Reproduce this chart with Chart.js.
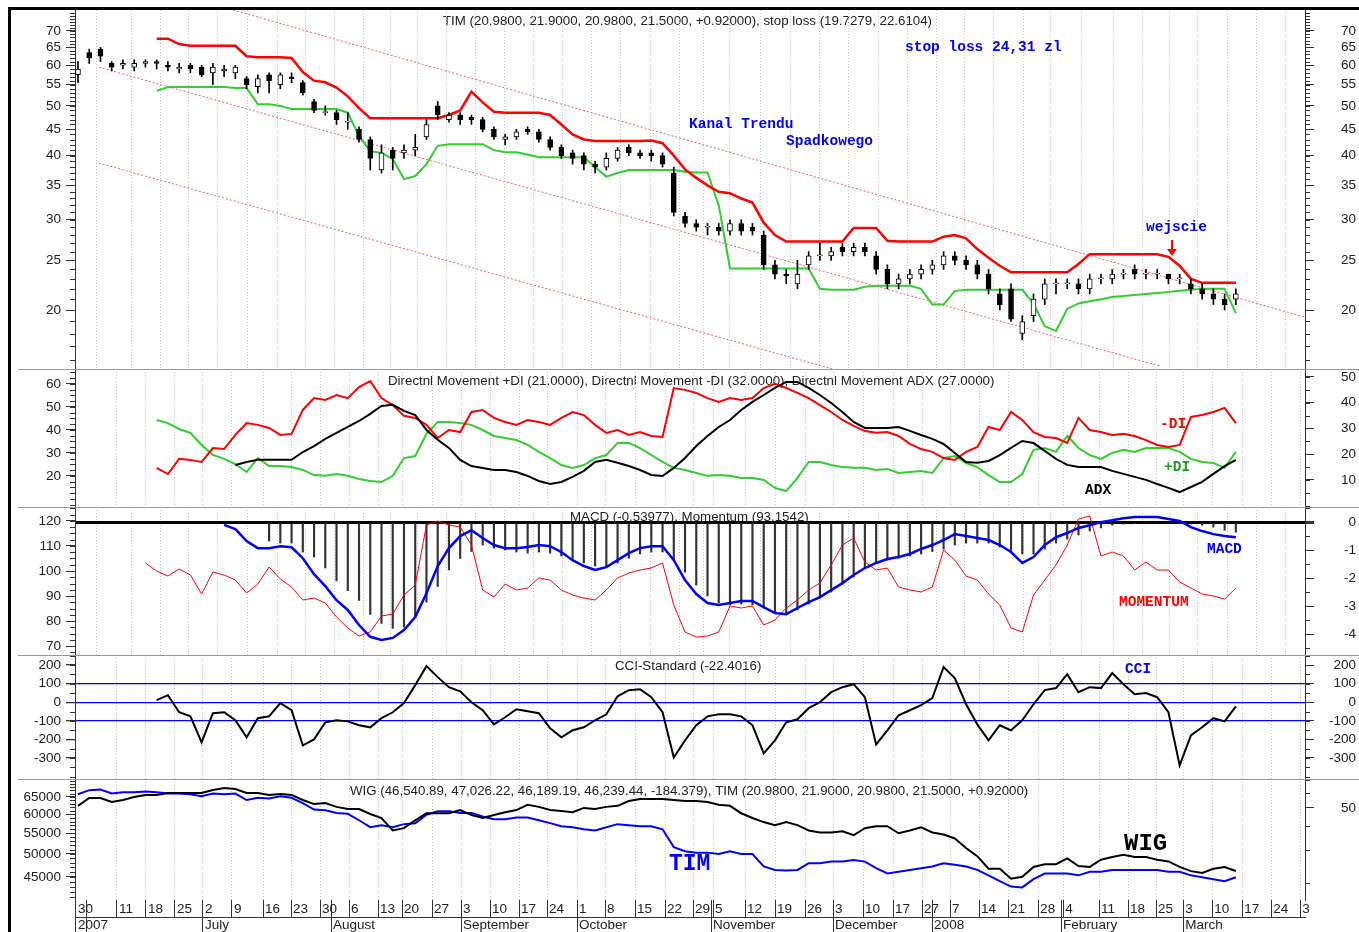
<!DOCTYPE html>
<html>
<head>
<meta charset="utf-8">
<title>TIM</title>
<script src="https://cdn.jsdelivr.net/npm/chart.js@4.4.1/dist/chart.umd.min.js"></script>
<style>
  html, body { margin: 0; padding: 0; background: #fff; }
  #page { position: relative; width: 1359px; height: 932px; overflow: hidden; }
  #page canvas { position: absolute; left: 0; }
  .rule { position: absolute; background: #000; }
  .sep { position: absolute; left: 18px; width: 1341px; height: 1px; background: #9a9a9a; }
</style>
</head>
<body>
<div id="page">
  <canvas id="price"></canvas>
  <canvas id="dmi"></canvas>
  <canvas id="macd"></canvas>
  <canvas id="cci"></canvas>
  <canvas id="wig"></canvas>
  <div class="sep" style="top:369px"></div>
  <div class="sep" style="top:507px"></div>
  <div class="sep" style="top:655px"></div>
  <div class="sep" style="top:779px"></div>
  <div class="rule" style="left:8px;top:7px;width:1351px;height:3px"></div>
  <div class="rule" style="left:8px;top:7px;width:3px;height:925px"></div>
</div>
<script>
// x is counted in trading sessions, one sample every second session
const X_MIN = -0.53, X_MAX = 218.3, STEP = 2;

// weekly labels on the time axis and month labels under them
const dayTicks = [-0.36, 6.94, 12.1, 17.26, 22.24, 27.4, 32.92, 37.9, 43.06, 48.22, 53.38, 57.65, 62.99,
  68.15, 73.31, 78.47, 83.45, 88.79, 93.77, 99.11, 104.45, 109.43, 112.99, 118.68, 124.02, 129.36,
  134.34, 139.68, 145.02, 150.18, 155.16, 160.32, 165.48, 170.82, 175.27, 181.67, 186.83, 191.81,
  196.62, 201.78, 207.12, 212.28, 217.44];
const dayLabels = ['30', '11', '18', '25', '2', '9', '16', '23', '30', '6', '13', '20', '27',
  '3', '10', '17', '24', '1', '8', '15', '22', '29', '5', '12', '19', '26',
  '3', '10', '17', '27', '7', '14', '21', '28', '4', '11', '18', '25',
  '3', '10', '17', '24', '3'];
const monthLines = [1.6, 45.02, 112.63, 151.96, 174.91];
const monthTicks = [-0.36, 1.6, 22.24, 45.02, 68.15, 88.79, 112.63, 134.34, 151.96, 174.91, 196.62];
const monthLabels = ['2007', '', 'July', 'August', 'September', 'October', 'November', 'December', '2008', 'February', 'March'];

// TIM candles
const timOpen = [57.5, 63.5, 64.5, 60.5, 60, 59.5, 60.5, 61, 60, 59,
  60, 59.5, 58, 58.5, 58, 56.5, 54.5, 57.5, 55, 57,
  55.5, 51, 48.5, 48.5, 46.5, 45, 43, 37.5, 41, 40.5,
  41, 43.5, 50, 47, 48, 47.5, 47, 45, 43, 43.5,
  45, 44.5, 43, 41.5, 40.5, 40, 38.5, 38, 39.5, 41.5,
  40.5, 40.5, 40, 37, 30.5, 29.5, 29, 29, 28.5, 29.5,
  29, 28, 24.5, 23.5, 22.5, 24.5, 25.5, 25.5, 26.5, 26,
  26.5, 25.5, 24, 22.5, 23, 23.5, 24, 24.5, 25.5, 25,
  24.5, 23.5, 21.5, 22, 18, 19.5, 21, 22.5, 22.5, 22.5,
  22, 23, 23, 23.5, 24, 23.5, 23.5, 23.5, 23, 22.5,
  22, 21.5, 21, 21];
const timHigh = [61, 64.5, 65, 61, 61.5, 61.5, 61.5, 61.5, 61, 60.5,
  60.5, 60, 60.5, 60, 60, 57, 57.5, 58, 58, 58,
  56, 51.5, 50, 49, 48.5, 45.5, 43.5, 42, 41.5, 42,
  44, 47, 51, 48.5, 48.5, 48, 47.5, 45.5, 44, 45,
  45.5, 45, 43.5, 42, 41, 40.5, 39, 40.5, 41.5, 42,
  41, 41, 40.5, 38, 31, 30, 29.5, 29.5, 30, 30,
  29.5, 28.5, 25, 24, 25, 26, 27, 26.5, 27, 27,
  27, 26, 24.5, 23.5, 24, 24.5, 25, 26, 26, 25.5,
  25, 24, 22, 22.5, 19.5, 21.5, 23, 23, 23, 23,
  23.5, 23.5, 24, 24, 24.5, 24, 24, 23.5, 23.5, 23,
  22.5, 22, 21.5, 22];
const timLow = [55.5, 60.5, 61, 58.5, 59, 58.5, 59.5, 59, 58.5, 58,
  58, 57, 55, 57, 56.5, 54, 53, 53, 54, 55.5,
  52.5, 48.5, 48, 46, 45, 42.5, 37.5, 37, 37.5, 39.5,
  40, 43, 47, 46.5, 46, 46, 44.5, 43, 42, 43,
  44, 42.5, 41, 39.5, 38.5, 37.5, 37, 37.5, 39, 40,
  39.5, 39, 38, 30.5, 29, 28.5, 28, 28, 28, 28,
  28, 24, 23, 22.5, 22, 24, 25, 25, 25.5, 25.5,
  25.5, 23.5, 22, 22, 22.5, 23, 23.5, 24, 24.5, 24,
  23, 21.5, 20, 19, 17.5, 19, 20.5, 21.5, 22, 21.5,
  21.5, 22.5, 22.5, 23, 23, 23, 23, 22.5, 22.5, 21.5,
  21, 20.5, 20, 20.5];
const timClose = [59, 62, 62.5, 59.5, 60.5, 60.5, 61, 60.5, 59.5, 59.5,
  59, 57.5, 59.5, 59, 59.5, 55, 56.5, 56, 57.5, 56.5,
  53, 49, 48.5, 47, 46.5, 43, 39.5, 40.5, 39.5, 41,
  41.5, 46, 48, 48, 47, 47, 45, 43.5, 43.5, 44.5,
  44.5, 43, 41.5, 40, 39.5, 38.5, 38, 39.5, 41, 40.5,
  40, 40, 38.5, 31, 29.5, 29, 29, 28.5, 29.5, 28.5,
  28.5, 24.5, 23.5, 23.3, 23.5, 25.5, 25.5, 26, 26, 26.5,
  26, 24, 22.5, 23, 23.5, 24, 24.5, 25.5, 25, 24.5,
  23.5, 22, 20.5, 19.2, 19, 21, 22.5, 22.5, 22.5, 22,
  23, 23, 23.5, 23.5, 23.5, 23.5, 23.5, 23, 23, 22,
  21.5, 21, 20.5, 21.5];

// stop loss bands, from sample 7
const stopUpper = [67.6, 67.6, 66, 65.5, 65.5, 65.5, 65.5, 65.5, 62.5, 62.2,
  62.2, 62.2, 62, 58.2, 56, 55.6, 54.3, 52.2, 49.5, 47.3,
  47.3, 47.3, 47.3, 47.3, 47.3, 47.3, 48, 49, 53.3, 50.8,
  48.7, 48.5, 48.5, 48.5, 48.5, 48, 46, 44, 43, 42.7,
  42.7, 42.7, 42.7, 42.7, 42.8, 42.3, 40, 37.6, 36.2, 35,
  34, 33.8, 33, 32.4, 29.6, 28, 27.2, 27.2, 27.2, 27.2,
  27.2, 27.2, 28.9, 28.9, 28.9, 27.3, 27.2, 27.2, 27.2, 27.2,
  27.8, 28, 27.6, 26.3, 25.3, 24.4, 23.7, 23.7, 23.7, 23.7,
  23.7, 23.7, 24.6, 25.7, 25.7, 25.7, 25.7, 25.7, 25.7, 25.7,
  25.4, 24.4, 23, 22.6, 22.6, 22.6, 22.61];
const stopLower = [53.5, 54.4, 54.4, 54.4, 54.4, 54.4, 54.4, 54.2, 54.2, 50.4,
  50.4, 50, 49.3, 49.3, 49.3, 49.3, 49.3, 48.5, 43.7, 40.8,
  40.5, 39.4, 36, 36.5, 38.5, 41.8, 42.1, 42.1, 42.1, 42.1,
  41, 40.6, 40.6, 40.2, 39.7, 39.7, 39.7, 39.7, 39.7, 38,
  36.4, 37, 37.5, 37.5, 37.5, 37.5, 37.5, 37.2, 37.1, 37.1,
  32, 24.1, 24.1, 24.1, 24.1, 24.1, 24.1, 24.1, 24.1, 22,
  21.9, 21.9, 21.9, 22.2, 22.3, 22.3, 22.3, 22.3, 22, 20.5,
  20.5, 21.8, 21.9, 21.9, 21.9, 21.9, 21.9, 21.9, 20.6, 18.6,
  18.2, 20.1, 20.6, 20.8, 21, 21.2, 21.3, 21.4, 21.5, 21.6,
  21.7, 21.8, 21.9, 22, 22, 22, 19.73];

// descending trend channel, [session, price] end points
const trendUpper = [[27.6, 76.9], [218.3, 19.37]];
const trendMiddle = [[3.7, 59.5], [192.5, 15.55]];
const trendLower = [[3.7, 38.7], [134.7, 15.3]];

// directional movement, +DI/-DI from sample 7, ADX from sample 14
const plusDI = [33.3, 32.1, 29.8, 28.3, 23.6, 19.7, 18.2, 16.2, 13.1, 18.5,
  15.4, 15.4, 15, 13.9, 11.9, 11.6, 12.3, 11.6, 10.4, 9.6,
  9.2, 11.6, 18.5, 19.3, 27.9, 32.5, 32.5, 32.1, 31.4, 29.4,
  27.1, 26.3, 25.5, 23.6, 20.9, 18.5, 15.8, 14.7, 15.8, 18.5,
  19.7, 24.4, 24.4, 22.4, 19.7, 17, 14.7, 13.9, 12.7, 11.6,
  11.9, 11.6, 10.8, 10.8, 10, 6.9, 5.7, 10.8, 17, 17,
  15.8, 15, 14.7, 14.7, 13.9, 14.3, 12.7, 13.1, 13.5, 12.7,
  18.5, 19.3, 16.6, 15, 11.9, 9.2, 9.2, 12.3, 21.7, 22.4,
  20.9, 27.1, 22.4, 19.7, 18.2, 20.5, 21.7, 20.9, 22.4, 22.4,
  22.4, 20.9, 18.2, 17, 16.6, 14.7, 20.9];
const minusDI = [14.7, 12.3, 18.2, 17.8, 17, 22.4, 22, 27.5, 32.1, 31.4,
  30.2, 27.5, 27.9, 37.2, 41.8, 41.1, 43, 41.8, 46.1, 48.4,
  41.8, 39.1, 34.9, 34.1, 31.4, 26.3, 29.4, 28.6, 36.4, 37.2,
  34.1, 32.5, 31.4, 33.3, 32.5, 31.4, 34.1, 36.4, 35.2, 31.4,
  28.3, 29.4, 27.5, 28.6, 27.1, 26.7, 45.7, 45, 43.8, 41.8,
  40.3, 41.8, 41.1, 41.8, 45.7, 47.3, 45.7, 43.8, 41.8, 39.1,
  36.4, 33.3, 31, 29, 28.3, 28.6, 27.1, 24, 22, 20.9,
  18.5, 17.8, 20.9, 22.8, 30.6, 29.4, 36.4, 33.3, 28.6, 26.7,
  26.3, 24.4, 34.1, 29.4, 28.6, 27.5, 27.9, 27.1, 25.5, 23.6,
  22.8, 23.6, 34.5, 35.2, 36.4, 38, 32.1];
const adx = [24.8, 26.1, 27, 27, 27, 27, 30.4, 33, 36.1, 38.7,
  41.3, 43.9, 47, 50.4, 50.9, 48.3, 46.5, 40, 35.7, 32.2,
  27, 24.3, 23.5, 22.6, 22.6, 21.7, 20, 17.8, 16.5, 17.4,
  19.6, 22.2, 26.1, 27, 25.7, 24.3, 22.6, 20.4, 20, 23.5,
  27.8, 33, 37.4, 41.3, 44.3, 48.7, 52.2, 55.2, 58.3, 60.9,
  60.9, 58.3, 55.2, 51.7, 47.8, 43.5, 40.9, 40.9, 40.9, 41.3,
  39.6, 37.8, 36.1, 33.9, 30, 26.1, 25.7, 26.5, 29.1, 32.2,
  35.2, 34.3, 30.9, 27.4, 24.8, 23.9, 23.9, 23.9, 22.2, 20.9,
  19.6, 18.3, 16.5, 14.8, 13, 15.2, 17.4, 20.9, 24.3, 27];

// MACD from sample 13, histogram from 17, momentum from 6
const macd = [-0.1, -0.25, -0.68, -0.93, -0.93, -0.86, -0.9, -1.29, -1.86, -2.29,
  -2.79, -3.14, -3.68, -4.1, -4.21, -4.14, -3.86, -3.39, -2.54, -1.57,
  -0.93, -0.5, -0.29, -0.57, -0.82, -0.93, -0.93, -0.89, -0.82, -0.86,
  -1.07, -1.36, -1.57, -1.71, -1.61, -1.36, -1.11, -0.93, -0.86, -0.86,
  -1.36, -2.07, -2.57, -2.89, -2.96, -2.89, -2.82, -2.82, -3.04, -3.25,
  -3.29, -3.07, -2.86, -2.68, -2.43, -2.18, -1.89, -1.64, -1.46, -1.32,
  -1.25, -1.14, -0.96, -0.82, -0.64, -0.43, -0.5, -0.57, -0.64, -0.82,
  -1.07, -1.46, -1.25, -0.82, -0.54, -0.39, -0.21, -0.11, 0, 0.07,
  0.14, 0.18, 0.18, 0.18, 0.11, 0.04, -0.18, -0.32, -0.43, -0.5,
  -0.54];
const macdHist = [-0.68, -0.75, -0.75, -1.07, -1.25, -1.64, -2.1, -2.45, -2.8, -3.3,
  -3.62, -3.8, -3.75, -3.4, -2.86, -2.3, -1.71, -1.3, -1.05, -0.82,
  -0.93, -1, -1.07, -1.11, -1.07, -1.11, -1.21, -1.36, -1.46, -1.57,
  -1.61, -1.46, -1.29, -1.14, -1.07, -1.07, -1.36, -1.79, -2.25, -2.64,
  -2.89, -2.96, -2.93, -2.96, -3.07, -3.21, -3.25, -3.14, -2.93, -2.71,
  -2.5, -2.21, -1.96, -1.64, -1.43, -1.36, -1.29, -1.21, -1.14, -1.05,
  -0.96, -0.82, -0.75, -0.75, -0.75, -0.89, -1.05, -1.14, -1.14, -0.96,
  -0.75, -0.61, -0.46, -0.32, -0.21, -0.11, -0.07, -0.04, 0, 0,
  0, -0.04, -0.07, -0.11, -0.18, -0.29, -0.36];
const momentum = [103.2, 100, 98, 100.8, 98.4, 90.8, 99.6, 98.4, 96.4, 91.2,
  94.8, 101.6, 96.8, 93.6, 88.4, 89.2, 87.2, 81.6, 77.2, 74,
  75.6, 82, 82.8, 90.4, 94.4, 118.4, 120, 118.4, 117.6, 110.4,
  92.4, 89.6, 94.8, 92.4, 93.2, 97.2, 96.4, 92.4, 90.4, 89.2,
  88.4, 92.4, 97.2, 99.2, 100.4, 101.2, 103.2, 86.4, 75.6, 73.6,
  74, 75.6, 86, 85.2, 86, 78.4, 80.4, 85.2, 88.4, 92.4,
  95.2, 102.4, 110.4, 113.2, 103.6, 100.4, 101.2, 93.6, 92.4, 91.6,
  93.6, 108.4, 104.4, 98, 96.4, 90.8, 86.4, 77.2, 75.6, 90.4,
  96.4, 102.4, 110.4, 120.8, 122, 106, 107.6, 106, 100.4, 103.6,
  100.4, 100.4, 95.6, 93.2, 90.8, 90, 88.8, 93.2];

// CCI from sample 7
const cci = [11, 38, -54, -76, -216, -59, -54, -97, -189, -86,
  -76, -5, -43, -232, -200, -108, -97, -103, -124, -135,
  -86, -54, -5, 92, 194, 135, 81, 59, 0, -43,
  -119, -81, -38, -49, -59, -140, -189, -151, -135, -97,
  -65, 32, 65, 70, 27, -54, -297, -205, -124, -76,
  -65, -65, -76, -124, -275, -205, -108, -92, -32, 0,
  54, 81, 97, 27, -227, -151, -70, -43, -16, 22,
  189, 130, -11, -119, -205, -124, -151, -97, -11, 65,
  76, 151, 54, 81, 76, 157, 97, 43, 49, 27,
  -54, -340, -178, -135, -86, -103, -22];

// WIG index close
const wig = [62400, 64700, 64700, 63500, 64100, 65000, 65600, 65600, 66200, 66200,
  66200, 66200, 67100, 67700, 67400, 66200, 66200, 65600, 65900, 65600,
  64100, 62900, 63200, 62100, 61500, 61500, 60100, 59000, 55700, 56300,
  58400, 60300, 60300, 60300, 61200, 59800, 59000, 59800, 60600, 61200,
  62700, 62100, 61200, 60900, 60600, 61800, 61500, 62100, 62400, 63800,
  64400, 64400, 64400, 64100, 63800, 63800, 63500, 62700, 62400, 60300,
  59000, 57900, 57100, 57900, 57100, 55700, 55200, 55200, 55500, 54500,
  56300, 56800, 56800, 55000, 55700, 56500, 55200, 54700, 53700, 51400,
  49500, 46700, 46700, 44600, 45000, 47100, 47700, 47700, 49000, 47300,
  47100, 48700, 49300, 49800, 49300, 49300, 48700, 48300, 47100, 46200,
  45800, 46700, 47100, 46240];

const RED = '#ff0000', GREEN = '#33cc33', BLUE = '#0000ff';
const TITLE = '13.3px "Liberation Sans", Arial, sans-serif';
const MONO = 'bold 14.5px "Liberation Mono", "Courier New", monospace';

Chart.defaults.font.family = '"Liberation Sans", Arial, sans-serif';
Chart.defaults.font.size = 13.5;
Chart.defaults.color = '#222';
Chart.defaults.elements.point.radius = 0;
Chart.defaults.elements.line.tension = 0;

const pts = (arr, start = 0) => arr.map((v, i) => ({ x: (start + i) * STEP, y: v }));
const seg = pair => pair.map(([x, y]) => ({ x, y }));
function range(a, b, s) {
  const out = [];
  for (let v = a; v <= b + 1e-9; v += s) out.push(+v.toFixed(3));
  return out;
}

const NOTES = {
  price: [
    { t: 'TIM (20.9800, 21.9000, 20.9800, 21.5000, +0.92000), stop loss (19.7279, 22.6104)', x: 443, y: 21, f: TITLE, c: '#222', under: true },
    { t: 'stop loss 24,31 zl', x: 905, y: 47, f: MONO, c: BLUE },
    { t: 'Kanal Trendu', x: 689, y: 124, f: MONO, c: BLUE },
    { t: 'Spadkowego', x: 786, y: 141, f: MONO, c: BLUE },
    { t: 'wejscie', x: 1146, y: 227, f: MONO, c: BLUE },
    { arrow: true, x: 1172, y: 240, y2: 256, c: RED }
  ],
  dmi: [
    { t: 'Directnl Movement +DI (21.0000), Directnl Movement -DI (32.0000), Directnl Movement ADX (27.0000)', x: 388, y: 381, f: TITLE, c: '#222', under: true },
    { t: '-DI', x: 1160, y: 424, f: MONO, c: RED },
    { t: '+DI', x: 1164, y: 467, f: MONO, c: '#229922' },
    { t: 'ADX', x: 1085, y: 490, f: MONO, c: '#000' }
  ],
  macd: [
    { t: 'MACD (-0.53977), Momentum (93.1542)', x: 570, y: 517, f: TITLE, c: '#222', under: true },
    { t: 'MACD', x: 1207, y: 549, f: MONO, c: BLUE },
    { t: 'MOMENTUM', x: 1119, y: 602, f: MONO, c: RED }
  ],
  cci: [
    { t: 'CCI-Standard (-22.4016)', x: 615, y: 666, f: TITLE, c: '#222', under: true },
    { t: 'CCI', x: 1125, y: 669, f: MONO, c: BLUE }
  ],
  wig: [
    { t: 'WIG (46,540.89, 47,026.22, 46,189.19, 46,239.44, -184.379), TIM (20.9800, 21.9000, 20.9800, 21.5000, +0.92000)', x: 350, y: 791, f: TITLE, c: '#222', under: true },
    { t: 'WIG', x: 1124, y: 844, f: 'bold 24px "Liberation Mono", monospace', c: '#000' },
    { t: 'TIM', x: 669, y: 864, f: 'bold 23px "Liberation Mono", monospace', c: BLUE }
  ]
};

const MINOR = {
  price: { y: range(16, 76, 1), y2: range(16, 76, 1) },
  dmi: { y: range(7.5, 65, 2.5), y2: range(0, 50, 5) },
  macd: { y: range(67.5, 125, 2.5), y2: range(-4.5, 0.5, 0.5) },
  cci: { y: range(-400, 250, 50), y2: range(-400, 250, 50) },
  wig: { y: range(41000, 70000, 1000), y2: [20, 30, 40, 60, 70] }
};

function drawNotes(chart, under) {
  const list = NOTES[chart.canvas.id] || [];
  const top = parseFloat(chart.canvas.style.top);
  const ctx = chart.ctx;
  ctx.save();
  list.forEach(n => {
    if (!!n.under !== under) return;
    if (n.arrow) {
      ctx.strokeStyle = n.c;
      ctx.fillStyle = n.c;
      ctx.lineWidth = 2;
      ctx.beginPath();
      ctx.moveTo(n.x, n.y - top);
      ctx.lineTo(n.x, n.y2 - top - 6);
      ctx.stroke();
      ctx.beginPath();
      ctx.moveTo(n.x - 5, n.y2 - top - 7);
      ctx.lineTo(n.x + 5, n.y2 - top - 7);
      ctx.lineTo(n.x, n.y2 - top);
      ctx.closePath();
      ctx.fill();
      return;
    }
    ctx.font = n.f;
    ctx.fillStyle = n.c;
    ctx.textAlign = 'left';
    ctx.textBaseline = 'middle';
    ctx.fillText(n.t, n.x, n.y - top);
  });
  ctx.restore();
}

const notesPlugin = {
  id: 'notes',
  beforeDraw: chart => drawNotes(chart, true),
  afterDatasetsDraw: chart => drawNotes(chart, false)
};

const minorPlugin = {
  id: 'minorTicks',
  afterDraw(chart) {
    const spec = MINOR[chart.canvas.id];
    const ctx = chart.ctx, area = chart.chartArea;
    ctx.save();
    ctx.strokeStyle = '#333';
    ctx.lineWidth = 1;
    Object.keys(spec).forEach(id => {
      const s = chart.scales[id];
      const left = s.position === 'left';
      const x0 = left ? area.left : area.right;
      spec[id].forEach(v => {
        const y = Math.round(s.getPixelForValue(v)) + 0.5;
        if (y < area.top || y > area.bottom) return;
        ctx.beginPath();
        ctx.moveTo(x0, y);
        ctx.lineTo(left ? x0 - 5 : x0 + 5, y);
        ctx.stroke();
      });
    });
    ctx.restore();
  }
};

function xDays(labels) {
  return {
    type: 'linear', position: 'bottom', min: X_MIN, max: X_MAX, offset: false,
    afterBuildTicks: s => { s.ticks = (labels ? dayTicks.concat(monthLines) : dayTicks).map(v => ({ value: v })); },
    afterFit: s => { s.height = labels ? 17 : 0; s.paddingLeft = 0; s.paddingRight = 0; },
    ticks: {
      display: labels, autoSkip: false, maxRotation: 0, minRotation: 0, align: 'start',
      labelOffset: 2, padding: -16, callback: (v, i) => dayLabels[i] || ''
    },
    grid: {
      color: c => c.index < dayTicks.length ? '#c4c4c4' : 'rgba(0,0,0,0)',
      drawTicks: labels, tickLength: 17, tickColor: '#333'
    },
    border: { display: false, dash: [1, 2] }
  };
}

const xMonths = {
  type: 'linear', position: 'bottom', min: X_MIN, max: X_MAX, offset: false,
  afterBuildTicks: s => { s.ticks = monthTicks.map(v => ({ value: v })); },
  afterFit: s => { s.height = 15; s.paddingLeft = 0; s.paddingRight = 0; },
  ticks: {
    autoSkip: false, maxRotation: 0, minRotation: 0, align: 'start',
    labelOffset: 2, padding: -15, callback: (v, i) => monthLabels[i]
  },
  grid: { drawOnChartArea: false, tickLength: 15, tickColor: '#333', color: '#333' },
  border: { display: true, color: '#333' }
};

function yAxis(pos, type, min, max, majors, grid) {
  return {
    type, position: pos, min, max,
    afterBuildTicks: s => { s.ticks = majors.map(v => ({ value: v })); },
    afterFit: s => { s.width = pos === 'left' ? 75 : 51; s.paddingTop = 0; s.paddingBottom = 0; },
    ticks: { autoSkip: false, padding: 5, crossAlign: pos === 'left' ? 'near' : 'far', callback: v => String(v) },
    grid: Object.assign({ drawOnChartArea: false, tickLength: 9, tickColor: '#333', color: '#333' }, grid || {}),
    border: { color: '#333' }
  };
}

function panel(id, top, height, datasets, scales) {
  const cv = document.getElementById(id);
  cv.width = 1359;
  cv.height = height;
  cv.style.top = top + 'px';
  return new Chart(cv, {
    type: 'line',
    data: { datasets },
    options: {
      responsive: false, animation: false, events: [],
      layout: { padding: { left: 0, right: 3, top: 0, bottom: 0 } },
      plugins: { legend: { display: false }, tooltip: { enabled: false } },
      scales
    },
    plugins: [notesPlugin, minorPlugin]
  });
}

const line = (data, color, width, yAxisID, order) =>
  ({ data, borderColor: color, borderWidth: width, yAxisID, order, fill: false, spanGaps: false });
const trend = data => ({ data, borderColor: 'rgba(255,60,60,0.85)', borderWidth: 1, borderDash: [2, 2], yAxisID: 'y', order: 6 });

const priceTicks = [20, 25, 30, 35, 40, 45, 50, 55, 60, 65, 70];

panel('price', 10, 359, [
  {
    type: 'bar', yAxisID: 'y', order: 0, grouped: false, barThickness: 5, minBarLength: 1,
    data: timOpen.map((o, i) => ({ x: i * STEP, y: [o, timClose[i]] })),
    backgroundColor: c => timClose[c.dataIndex] >= timOpen[c.dataIndex] ? '#fff' : '#000',
    borderColor: '#000', borderWidth: 1, borderSkipped: false
  },
  {
    type: 'bar', yAxisID: 'y', order: 1, grouped: false, barThickness: 1,
    data: timLow.map((l, i) => ({ x: i * STEP, y: [l, timHigh[i]] })),
    backgroundColor: '#000', borderWidth: 0
  },
  line(pts(stopUpper, 7), RED, 2.5, 'y', 2),
  line(pts(stopLower, 7), GREEN, 2, 'y', 3),
  trend(seg(trendUpper)),
  trend(seg(trendMiddle)),
  trend(seg(trendLower))
], {
  x: xDays(false),
  y: yAxis('left', 'logarithmic', 15.35, 76.9, priceTicks),
  y2: yAxis('right', 'logarithmic', 15.35, 76.9, priceTicks)
});

panel('dmi', 369, 138, [
  line(pts(adx, 14), '#000', 2, 'y', 0),
  line(pts(minusDI, 7), RED, 2, 'y2', 1),
  line(pts(plusDI, 7), GREEN, 2, 'y2', 2)
], {
  x: xDays(false),
  y: yAxis('left', 'linear', 6.5, 66.5, [20, 30, 40, 50, 60]),
  y2: yAxis('right', 'linear', -0.5, 53.1, [10, 20, 30, 40, 50])
});

panel('macd', 507, 148, [
  line(pts(macd, 13), BLUE, 2.5, 'y2', 0),
  line(pts(momentum, 6), RED, 1, 'y', 1),
  { type: 'bar', yAxisID: 'y2', order: 2, grouped: false, barThickness: 1.5, data: pts(macdHist, 17), backgroundColor: '#333' }
], {
  x: xDays(false),
  y: yAxis('left', 'linear', 66.4, 125.6, [70, 80, 90, 100, 110, 120]),
  y2: yAxis('right', 'linear', -4.75, 0.54, [-4, -3, -2, -1, 0], {
    drawOnChartArea: true,
    color: c => c.tick && c.tick.value === 0 ? '#000' : 'rgba(0,0,0,0)',
    lineWidth: c => c.tick && c.tick.value === 0 ? 3 : 1
  })
});

const cciTicks = [-300, -200, -100, 0, 100, 200];
panel('cci', 655, 124, [
  line(pts(cci, 7), '#000', 2, 'y', 0)
], {
  x: xDays(false),
  y: yAxis('left', 'linear', -413, 254, cciTicks, {
    drawOnChartArea: true,
    color: c => c.tick && Math.abs(c.tick.value) <= 100 ? BLUE : 'rgba(0,0,0,0)',
    lineWidth: 1.3
  }),
  y2: yAxis('right', 'linear', -413, 254, cciTicks)
});

panel('wig', 779, 153, [
  line(pts(wig), '#000', 2, 'y', 0),
  line(pts(timClose), BLUE, 2, 'y2', 1)
], {
  x: xDays(true),
  x2: xMonths,
  y: yAxis('left', 'logarithmic', 40450, 70600, [45000, 50000, 55000, 60000, 65000]),
  y2: yAxis('right', 'logarithmic', 16.3, 71, [50])
});
</script>
</body>
</html>
